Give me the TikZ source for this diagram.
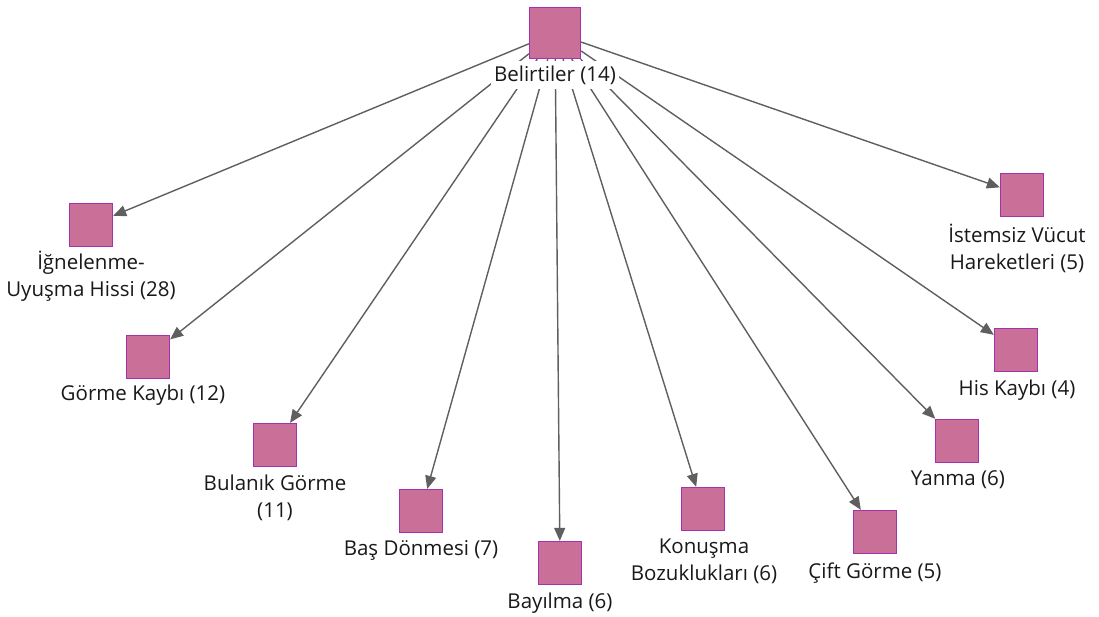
\documentclass[tikz,border=0pt]{standalone}
\usepackage{fontspec}
\setmainfont{Open Sans}
\usetikzlibrary{arrows.meta}
\definecolor{sqfill}{RGB}{201,111,152}
\definecolor{sqdraw}{RGB}{165,50,170}
\definecolor{edgecol}{RGB}{95,95,95}
\tikzset{
  sq/.style={draw=sqdraw, fill=sqfill, line width=1.3pt, minimum size=43pt, inner sep=0pt},
  bigsq/.style={sq, minimum size=51pt},
  lbl/.style={fill=white, inner sep=1pt, align=center, font=\fontsize{20.5}{27}\selectfont, text=black!90},
  edge/.style={draw=edgecol, line width=1.4pt, -{Triangle[length=13pt,width=11pt]}}
}
\begin{document}
\begin{tikzpicture}[x=1pt,y=-1pt]
\useasboundingbox (0,0) rectangle (1099,616);
\node[bigsq] (src) at (555,33) {};
\node[sq] (t1) at (91,225) {};
\node[sq] (t2) at (148,357) {};
\node[sq] (t3) at (275,445) {};
\node[sq] (t4) at (421,511) {};
\node[sq] (t5) at (560,563) {};
\node[sq] (t6) at (703,509) {};
\node[sq] (t7) at (875,532) {};
\node[sq] (t8) at (957,441) {};
\node[sq] (t9) at (1016,350) {};
\node[sq] (t10) at (1022,195) {};
\foreach \t in {t1,t2,t3,t4,t5,t6,t7,t8,t9,t10}
  \draw[edge] (src) -- (\t);
\node[lbl, inner ysep=5pt, inner xsep=3pt] (lsrc) at (555,75) {Belirtiler (14)};
\node[lbl] (l1) at (91,276.5) {İğnelenme-\\Uyuşma Hissi (28)};
\node[lbl] (l2) at (143,395) {Görme Kaybı (12)};
\node[lbl] (l3) at (275,497.5) {Bulanık Görme\\(11)};
\node[lbl] (l4) at (421,550) {Baş Dönmesi (7)};
\node[lbl] (l5) at (560,603) {Bayılma (6)};
\node[lbl] (l6) at (704,561.5) {Konuşma\\Bozuklukları (6)};
\node[lbl] (l7) at (875,573) {Çift Görme (5)};
\node[lbl] (l8) at (958,480) {Yanma (6)};
\node[lbl] (l9) at (1017,390) {His Kaybı (4)};
\node[lbl] (l10) at (1017,248.5) {İstemsiz Vücut\\Hareketleri (5)};
\end{tikzpicture}
\end{document}
